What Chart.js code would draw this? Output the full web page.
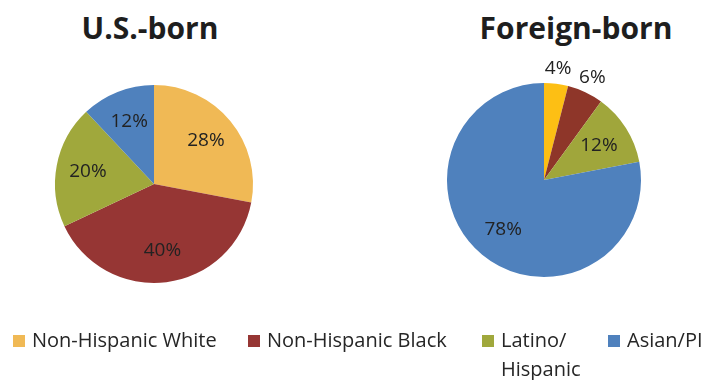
<!DOCTYPE html>
<html>
<head>
<meta charset="utf-8">
<script src="https://cdn.jsdelivr.net/npm/chart.js@4.4.0/dist/chart.umd.min.js"></script>
<style>
    body { margin: 0; background: #fff; }
    #wrap {
        position: relative;
        width: 704px;
        height: 380px;
        overflow: hidden;
        font-family: 'Open Sans', sans-serif;
        color: #222;
    }
    .title {
        position: absolute;
        top: 13px;
        width: 300px;
        text-align: center;
        font-weight: bold;
        font-size: 30px;
        line-height: 30px;
        color: #1e1e1e;
    }
    #title-us { left: 0px; }
    #title-foreign { left: 426px; }
    #box-us { position: absolute; left: 0; top: 60px; width: 310px; height: 240px; }
    #box-foreign { position: absolute; left: 396px; top: 40px; width: 296px; height: 250px; }
    #legend { position: absolute; left: 0; top: 0; width: 704px; height: 380px; }
    .legend-item {
        position: absolute;
        top: 325px;
        font-family: 'Open Sans', sans-serif;
        font-size: 20px;
        line-height: 29px;
        color: #262626;
        white-space: nowrap;
    }
    .legend-item .swatch {
        position: absolute;
        left: 0;
        top: 10px;
        width: 12px;
        height: 12px;
    }
    .legend-item .text { margin-left: 19px; }
    .legend-item:nth-child(1) { left: 13px; }
    .legend-item:nth-child(2) { left: 248px; }
    .legend-item:nth-child(3) { left: 482px; width: 110px; white-space: normal; }
    .legend-item:nth-child(4) { left: 608px; }
</style>
</head>
<body>
<div id="wrap">
    <div class="title" id="title-us">U.S.-born</div>
    <div class="title" id="title-foreign">Foreign-born</div>
    <div id="box-us"><canvas id="chart-us"></canvas></div>
    <div id="box-foreign"><canvas id="chart-foreign"></canvas></div>
    <div id="legend"></div>
</div>
<script>
// ============================================
// NATIVITY PIES - U.S.-BORN VS FOREIGN-BORN
// ============================================

const categories = ['Non-Hispanic White', 'Non-Hispanic Black', 'Latino/Hispanic', 'Asian/PI'];
const usBorn = [28, 40, 20, 12];
const foreignBorn = [4, 6, 12, 78];

const usColors = ['#F0B955', '#963634', '#A0A83C', '#4F81BD'];
const foreignColors = ['#FDBF14', '#8E3629', '#A0A63B', '#4F81BD'];

// Percent labels, placed along each slice's mid-angle
const pctLabels = {
    id: 'pctLabels',
    afterDatasetsDraw(chart, args, opts) {
        const ctx = chart.ctx;
        const meta = chart.getDatasetMeta(0);
        const values = chart.data.datasets[0].data;
        ctx.save();
        ctx.font = '19px "Open Sans"';
        ctx.fillStyle = '#222';
        ctx.textAlign = 'center';
        ctx.textBaseline = 'middle';
        meta.data.forEach((arc, i) => {
            const { x, y, startAngle, endAngle, outerRadius } =
                arc.getProps(['x', 'y', 'startAngle', 'endAngle', 'outerRadius'], true);
            const mid = (startAngle + endAngle) / 2;
            const r = outerRadius * opts.radius[i];
            ctx.fillText(values[i] + '%', x + Math.cos(mid) * r, y + Math.sin(mid) * r);
        });
        ctx.restore();
    }
};

function makePie(canvasId, values, colors, padding, labelRadius) {
    return new Chart(document.getElementById(canvasId), {
        type: 'pie',
        data: {
            labels: categories,
            datasets: [{
                data: values,
                backgroundColor: colors,
                borderWidth: 0,
                offset: 0,
                hoverOffset: 0
            }]
        },
        options: {
            responsive: true,
            maintainAspectRatio: false,
            animation: false,
            events: [],
            layout: { padding: padding },
            plugins: {
                legend: { display: false },
                tooltip: { enabled: false },
                pctLabels: { radius: labelRadius }
            }
        },
        plugins: [pctLabels]
    });
}

makePie('chart-us', usBorn, usColors,
    { left: 55, right: 57, top: 25, bottom: 17 },
    [0.68, 0.68, 0.68, 0.68]);

makePie('chart-foreign', foreignBorn, foreignColors,
    { left: 51, right: 51, top: 43, bottom: 13 },
    [1.16, 1.17, 0.67, 0.66]);

// Legend
document.getElementById('legend').innerHTML = categories.map((cat, i) => `
    <div class="legend-item">
        <span class="swatch" style="background:${usColors[i]}"></span>
        <div class="text">${cat.replace('/', '/<wbr>')}</div>
    </div>
`).join('');
</script>
</body>
</html>
